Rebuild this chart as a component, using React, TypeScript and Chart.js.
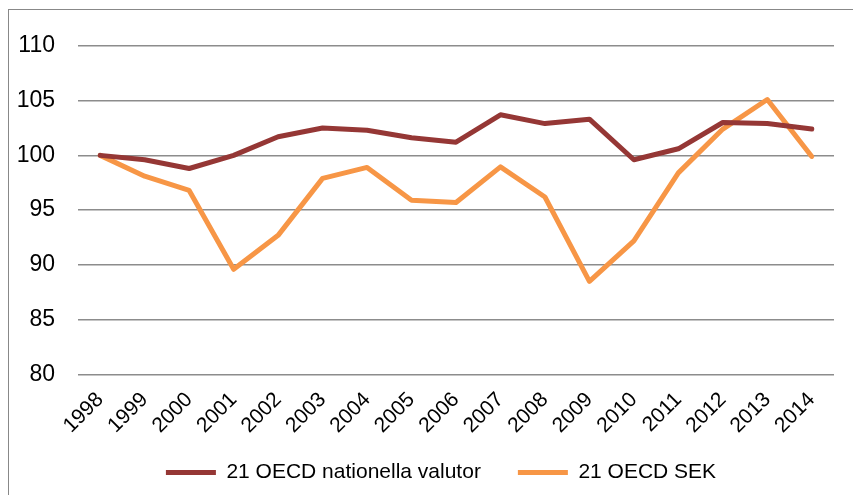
import React, { useEffect, useRef } from "react";
import { Chart, registerables } from "chart.js";

Chart.register(...registerables);

const years = ["1998","1999","2000","2001","2002","2003","2004","2005","2006","2007","2008","2009","2010","2011","2012","2013","2014"];
const nationella = [100, 99.6, 98.8, 100.0, 101.7, 102.5, 102.3, 101.6, 101.2, 103.7, 102.9, 103.3, 99.6, 100.6, 103.0, 102.9, 102.4];
const sek = [100, 98.1, 96.8, 89.6, 92.7, 97.9, 98.9, 95.9, 95.7, 98.95, 96.2, 88.5, 92.2, 98.4, 102.4, 105.1, 99.9];
const seriesNames = ["21 OECD nationella valutor", "21 OECD SEK"];
const yTicks = { min: 80, max: 110, step: 5 };

const FONT = "'Liberation Sans', Arial, sans-serif";

const legendFix = {
  id: "legendFix",
  beforeLayout(chart: any) {
    const l = chart.legend;
    if (l && !l._patched) {
      const f = l.fit.bind(l);
      l.fit = function () { f(); this.height = 56.5; };
      l._patched = true;
    }
  },
  afterLayout(chart: any) {
    const l = chart.legend;
    if (l) {
      l.left += 20; l.right += 20;
      l.top = 416; l.bottom = 416 + l.height;
    }
  },
};

export default function App() {
  const ref = useRef<HTMLCanvasElement | null>(null);
  useEffect(() => {
    document.documentElement.style.overflow = "hidden";
    document.body.style.overflow = "hidden";
    const ctx = ref.current!.getContext("2d")!;
    const chart = new Chart(ctx, {
      type: "line",
      data: {
        labels: years,
        datasets: [
          { label: seriesNames[0], data: nationella, borderColor: "#953735", backgroundColor: "#953735", borderWidth: 5, pointRadius: 0, tension: 0, borderCapStyle: "round", borderJoinStyle: "round" },
          { label: seriesNames[1], data: sek, borderColor: "#F79646", backgroundColor: "#F79646", borderWidth: 5, pointRadius: 0, tension: 0, borderCapStyle: "round", borderJoinStyle: "round" },
        ],
      },
      options: {
        animation: false,
        responsive: false,
        layout: { padding: { top: 32, right: 19, left: 0, bottom: 0 } },
        plugins: {
          tooltip: { enabled: false },
          legend: {
            position: "bottom",
            labels: {
              usePointStyle: true,
              pointStyle: "line",
              pointStyleWidth: 50,
              boxHeight: 21,
              padding: 37,
              color: "#000",
              font: { family: FONT, size: 21 },
            },
          },
        },
        scales: {
          x: {
            offset: true,
            grid: { display: false, drawTicks: false },
            border: { display: false },
            ticks: { color: "#000", font: { family: FONT, size: 21 }, maxRotation: 45, minRotation: 45, padding: 13, autoSkip: false },
            afterFit: (s: any) => { s.height = 64; },
          },
          y: {
            min: yTicks.min,
            max: yTicks.max,
            grid: { color: "#8c8c8c", lineWidth: 1.5, drawTicks: false },
            border: { display: false },
            ticks: { stepSize: yTicks.step, color: "#000", font: { family: FONT, size: 23 }, padding: 23 },
            afterFit: (s: any) => { s.width = 70; },
          },
        },
      },
      plugins: [legendFix],
    });
    return () => chart.destroy();
  }, []);
  return (
    <div style={{ position: "absolute", left: 8, top: 9, width: 900, height: 600, borderTop: "1.5px solid #888", borderLeft: "1.5px solid #888", boxSizing: "border-box" }}>
      <canvas ref={ref} width={845} height={486} style={{ display: "block", position: "absolute", left: -1, top: -1 }} />
    </div>
  );
}
